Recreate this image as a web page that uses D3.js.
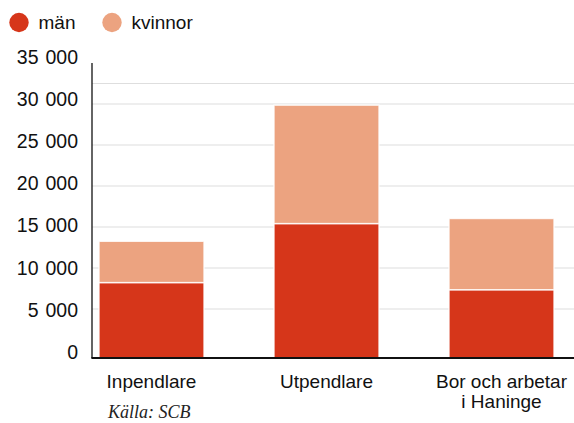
<!DOCTYPE html>
<html>
<head>
<meta charset="utf-8">
<script src="https://cdn.jsdelivr.net/npm/d3@7"></script>
<style>
  html, body { margin: 0; padding: 0; background: #fff; }
  svg { display: block; font-family: "Liberation Sans", Arial, sans-serif; }
</style>
</head>
<body>
<script>
"use strict";

// data
const categories = ["Inpendlare", "Utpendlare", "Bor och arbetar i Haninge"];
const categoryLines = [["Inpendlare"], ["Utpendlare"], ["Bor och arbetar", "i Haninge"]];
const seriesKeys = ["män", "kvinnor"];
const man = [8950, 15950, 8100];
const kvinnor = [4900, 14050, 8450];
const yTicks = [0, 5000, 10000, 15000, 20000, 25000, 30000, 35000];
const gridValues = [5000, 10000, 15000, 20000, 25000, 30000, 32500];
const source = "Källa: SCB";

const colors = { "män": "#d6361a", "kvinnor": "#eca380" };

const width = 574, height = 423;
const margin = { top: 63, right: 0, bottom: 65, left: 92 };

const rows = categories.map((c, i) => ({ cat: c, "män": man[i], "kvinnor": kvinnor[i] }));
const stacked = d3.stack().keys(seriesKeys)(rows);

const x = d3.scaleBand()
    .domain(categories)
    .range([margin.left, 561])
    .paddingInner(0.4)
    .paddingOuter(0.04);

const y = d3.scaleLinear()
    .domain([0, 35000])
    .range([height - margin.bottom, margin.top]);

// the light grid in the original sits on its own, slightly tighter scale
const gridY = d3.scaleLinear()
    .domain([0, 30000])
    .range([350, 104]);

const svg = d3.select("body").append("svg")
    .attr("width", width)
    .attr("height", height);

// legend
const legend = svg.append("g").selectAll("g")
    .data(seriesKeys)
    .join("g")
    .attr("transform", (d, i) => `translate(${19 + i * 93},22.5)`);

legend.append("circle")
    .attr("r", 9.7)
    .attr("fill", d => colors[d]);

legend.append("text")
    .attr("x", 19.5)
    .attr("y", 6.5)
    .attr("font-size", 19)
    .attr("fill", "#111")
    .text(d => d);

// grid
svg.append("g").selectAll("line")
    .data(gridValues)
    .join("line")
    .attr("x1", margin.left)
    .attr("x2", width)
    .attr("y1", d => gridY(d))
    .attr("y2", d => gridY(d))
    .attr("stroke", "#dedede")
    .attr("stroke-width", 1.2);

// bars
svg.append("g").selectAll("g")
    .data(stacked)
    .join("g")
    .attr("fill", d => colors[d.key])
    .selectAll("rect")
    .data(d => d)
    .join("rect")
    .attr("x", d => x(d.data.cat))
    .attr("width", x.bandwidth())
    .attr("y", d => y(d[1]))
    .attr("height", d => y(d[0]) - y(d[1]))
    .attr("stroke", "#fff")
    .attr("stroke-opacity", 0.85)
    .attr("stroke-width", 1.4);

// axes lines
svg.append("line")
    .attr("x1", margin.left).attr("x2", margin.left)
    .attr("y1", y(35000)).attr("y2", y(0))
    .attr("stroke", "#111").attr("stroke-width", 1.3);

svg.append("line")
    .attr("x1", margin.left - 0.6).attr("x2", width)
    .attr("y1", y(0)).attr("y2", y(0))
    .attr("stroke", "#111").attr("stroke-width", 2);

// y tick labels
const fmt = v => d3.format(",")(v).replace(/,/g, " ");
svg.append("g").selectAll("text")
    .data(yTicks)
    .join("text")
    .attr("x", 78)
    .attr("y", d => y(d) - 6)
    .attr("dy", "0.35em")
    .attr("text-anchor", "end")
    .attr("font-size", 19.5)
    .attr("word-spacing", 1.5)
    .attr("fill", "#111")
    .text(fmt);

// category labels
const cats = svg.append("g").selectAll("text")
    .data(categories)
    .join("text")
    .attr("x", d => x(d) + x.bandwidth() / 2)
    .attr("y", 388)
    .attr("text-anchor", "middle")
    .attr("font-size", 19)
    .attr("fill", "#111");

cats.selectAll("tspan")
    .data((d, i) => categoryLines[i])
    .join("tspan")
    .attr("x", function () { return this.parentNode.getAttribute("x"); })
    .attr("dy", (d, i) => i === 0 ? 0 : 19.5)
    .text(d => d);

// source
svg.append("text")
    .attr("x", 108)
    .attr("y", 418)
    .attr("font-family", "'Liberation Serif', 'Times New Roman', serif")
    .attr("font-style", "italic")
    .attr("font-size", 18)
    .attr("fill", "#222")
    .text(source);
</script>
</body>
</html>
